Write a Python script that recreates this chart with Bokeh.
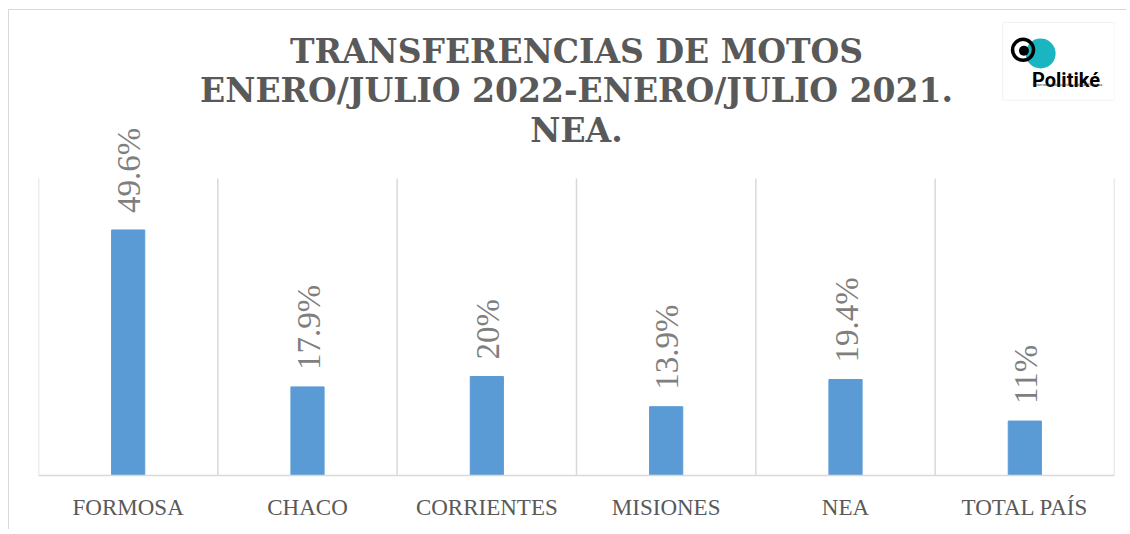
import math
from bokeh.plotting import figure
from bokeh.models import Range1d, FixedTicker, Label
from bokeh.core.properties import value
from bokeh.embed import file_html
from bokeh.resources import INLINE

categories = ["FORMOSA", "CHACO", "CORRIENTES", "MISIONES", "NEA", "TOTAL PAÍS"]
values = [49.6, 17.9, 20.0, 13.9, 19.4, 11.0]
value_labels = ["49.6%", "17.9%", "20%", "13.9%", "19.4%", "11%"]
title_lines = ["TRANSFERENCIAS DE MOTOS", "ENERO/JULIO 2022-ENERO/JULIO 2021.", "NEA."]
logo_name = "Politiké"
logo_sub = "Observatorio de políticas públicas Formosa"

n = len(categories)
xs = [i + 0.5 for i in range(n)]
boundaries = list(range(n + 1))
value_top = 60          # top of the value (plot) area
view_top = 93.94        # extra room above for title / labels

p = figure(width=1118, height=520, output_backend="svg", toolbar_location=None, title=None,
           x_range=Range1d(0, n), y_range=Range1d(0, view_top),
           min_border_left=29, min_border_right=13, min_border_bottom=55, min_border_top=0)
p.styles = {"margin": "9px 0px 0px 8px", "border-left": "1px solid #d9d9d9",
            "border-top": "1px solid #d9d9d9"}

# vertical separators between categories (plot area only)
p.segment(x0=boundaries, x1=boundaries, y0=[0] * len(boundaries), y1=[value_top] * len(boundaries),
          line_color="#d9d9d9", line_width=1.5)

p.vbar(x=xs, top=values, width=0.185, bottom=0, color="#5B9BD5", line_color="#5B9BD5")
p.text(x=xs, y=values, text=value_labels, angle=math.pi / 2, text_align="left",
       text_baseline="middle", y_offset=-17, x_offset=1,
       text_font=value("Liberation Serif"), text_font_size="33px", text_color="#7f7f7f")

# title
for line, yy in zip(title_lines, [85.7, 77.8, 69.7]):
    p.add_layout(Label(x=n / 2, y=yy, text=line, text_align="center", text_baseline="alphabetic",
                       text_font="DejaVu Serif", text_font_size="33px", text_font_style="bold",
                       text_color="#595959"))

# logo
p.quad(left=[5.376], right=[6.0], top=[91.5], bottom=[75.8], fill_color="white",
       line_color="#f2f2f2", line_width=1)
p.circle(x=[5.588], y=[85.25], radius=15, radius_units="screen", fill_color="#19b5c0",
         line_color=None)
p.circle(x=[5.49], y=[86.0], radius=10.5, radius_units="screen", fill_color=None,
         line_color="black", line_width=3.5)
p.circle(x=[5.495], y=[85.8], radius=5, radius_units="screen", fill_color="black",
         line_color=None)
p.text(x=[5.540], y=[80.0], text=[logo_name], text_font=value("Roboto"),
       text_font_style="bold", text_font_size="20px", text_color="black",
       text_baseline="alphabetic")
p.text(x=[5.545], y=[79.2], text=[logo_sub], text_font=value("Roboto"),
       text_font_size="3.6px", text_color="#333333", text_baseline="top")

p.yaxis.visible = False
p.grid.visible = False
p.xaxis.ticker = FixedTicker(ticks=xs)
p.xaxis.major_label_overrides = {x: c for x, c in zip(xs, categories)}
p.xaxis.major_tick_line_color = None
p.xaxis.minor_tick_line_color = None
p.xaxis.axis_line_color = "#d9d9d9"
p.xaxis.axis_line_width = 1.5
p.xaxis.major_label_text_font = "Liberation Serif"
p.xaxis.major_label_text_font_size = "23px"
p.xaxis.major_label_text_color = "#595959"
p.xaxis.major_label_standoff = 13
p.outline_line_color = None

open("out.html", "w").write(file_html(p, INLINE))
